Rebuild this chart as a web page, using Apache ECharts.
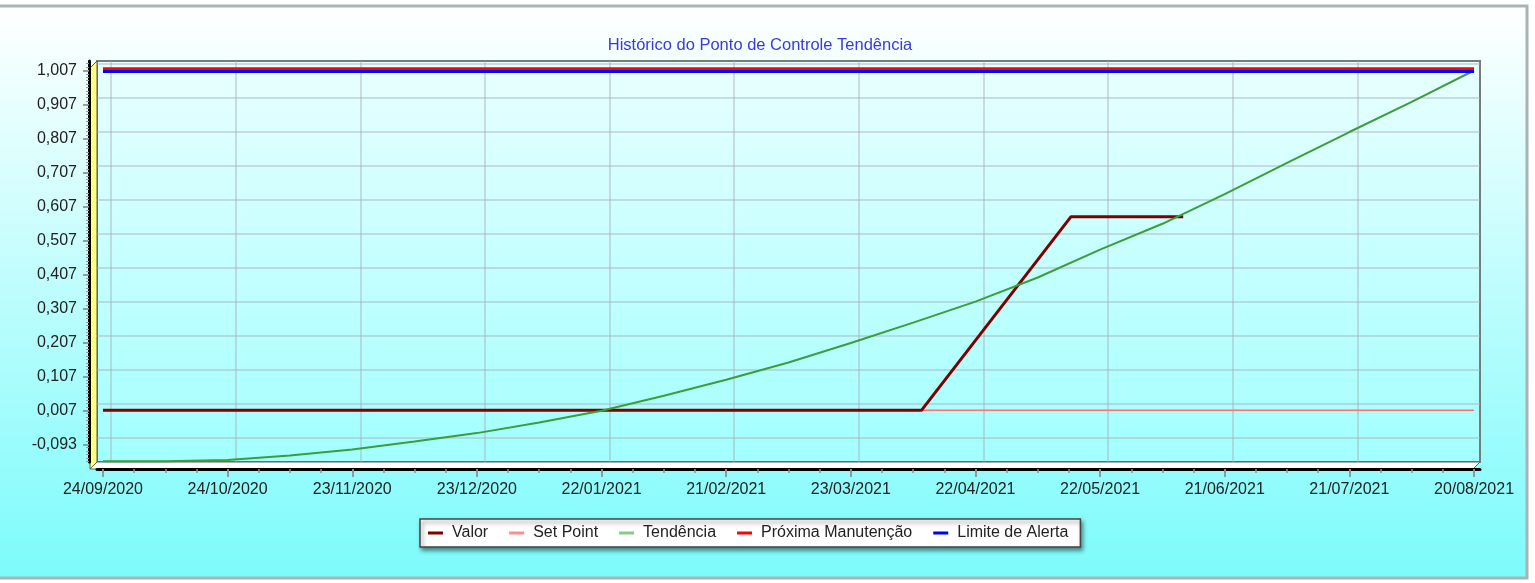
<!DOCTYPE html>
<html>
<head>
<meta charset="utf-8">
<title>Histórico do Ponto de Controle Tendência</title>
<script src="https://cdn.jsdelivr.net/npm/echarts@6/dist/echarts.min.js"></script>
<style>
  html, body { margin: 0; padding: 0; background: #fff; }
  #main { width: 1535px; height: 583px; }
</style>
</head>
<body>
<div id="main"></div>
<script>
// rótulos dos eixos
var xTicks = ['2020-09-24', '2020-10-24', '2020-11-23', '2020-12-23', '2021-01-22', '2021-02-21',
  '2021-03-23', '2021-04-22', '2021-05-22', '2021-06-21', '2021-07-21', '2021-08-20'];
var yTicks = [-0.093, 0.007, 0.107, 0.207, 0.307, 0.407, 0.507, 0.607, 0.707, 0.807, 0.907, 1.007];

// Valor
var valorDates = ['2020-09-24', '2021-04-09', '2021-05-15', '2021-06-11'];
var valorValues = [0.007, 0.007, 0.577, 0.577];

// Set Point
var setPointDates = ['2020-09-24', '2021-08-20'];
var setPointValues = [0.007, 0.007];

// Tendência
var tendDates = ['2020-09-24', '2020-10-09', '2020-10-24', '2020-11-08', '2020-11-23', '2020-12-08',
  '2020-12-23', '2021-01-07', '2021-01-22', '2021-02-06', '2021-02-21', '2021-03-08', '2021-03-23',
  '2021-04-07', '2021-04-22', '2021-05-07', '2021-05-22', '2021-06-06', '2021-06-21', '2021-07-06',
  '2021-07-21', '2021-08-05', '2021-08-20'];
var tendValues = [-0.143, -0.143, -0.139, -0.126, -0.108, -0.085,
  -0.060, -0.029, 0.006, 0.050, 0.097, 0.148, 0.205,
  0.265, 0.327, 0.398, 0.480, 0.556, 0.643, 0.735,
  0.826, 0.915, 1.007];

// Próxima Manutenção / Limite de Alerta
var manutDates = ['2020-09-24', '2021-08-20'];
var manutValues = [1.012, 1.012];
var alertaDates = ['2020-09-24', '2021-08-20'];
var alertaValues = [1.004, 1.004];

var DAY = 86400000;
function ts(s) { return Date.parse(s + 'T00:00:00Z'); }
function pairs(d, v) { return d.map(function (s, i) { return [ts(s), v[i]]; }); }
function pad(n) { return n < 10 ? '0' + n : '' + n; }
function fmtDate(t) {
  var d = new Date(t);
  return pad(d.getUTCDate()) + '/' + pad(d.getUTCMonth() + 1) + '/' + d.getUTCFullYear();
}
function fmtNum(v) { return v.toFixed(3).replace('.', ','); }

var xMajor = xTicks.map(ts);
var xMinor = [];
for (var i = 0; i <= 44; i++) xMinor.push(xMajor[0] + i * 7.5 * DAY);
var yMinor = [];
for (var k = -15; k <= 102; k++) yMinor.push(+(0.007 + k * 0.01).toFixed(3));

var xMin = xMajor[0] - 1.44 * DAY;
var xMax = xMajor[xMajor.length - 1] + 1.44 * DAY;
var yMin = -0.145, yMax = 1.035;
// grade desenhada na parede do fundo (deslocada como no 3D)
var xShift = 1.93 * DAY, yShift = 0.0206;

var font = 'Liberation Sans, Arial, sans-serif';
var gridColor = 'rgba(170,170,182,0.42)';

var chart = echarts.init(document.getElementById('main'));

var option = {
  animation: false,
  backgroundColor: '#ffffff',
  title: {
    text: 'Histórico do Ponto de Controle Tendência',
    left: 755,
    textAlign: 'center',
    top: 32,
    textStyle: { color: '#3a3adc', fontSize: 16.5, fontWeight: 'normal', fontFamily: font }
  },
  legend: {
    left: 420,
    top: 519,
    padding: [6, 12, 6, 8],
    backgroundColor: '#ffffff',
    borderColor: '#444',
    borderWidth: 1.5,
    shadowBlur: 4,
    shadowOffsetX: 2,
    shadowOffsetY: 3,
    shadowColor: 'rgba(0,0,0,0.45)',
    icon: 'rect',
    itemWidth: 15,
    itemHeight: 3,
    itemGap: 21,
    textStyle: { fontSize: 16, color: '#222', fontFamily: font, padding: [0, 0, 0, 4] },
    data: ['Valor', 'Set Point', 'Tendência', 'Próxima Manutenção', 'Limite de Alerta']
  },
  grid: { left: 97, right: 55, top: 61, bottom: 121 },
  xAxis: [{
    type: 'value',
    position: 'bottom',
    min: xMin,
    max: xMax,
    offset: 7,
    axisLine: { onZero: false, lineStyle: { color: '#000', width: 3 } },
    axisTick: { customValues: xMajor, length: 8, lineStyle: { color: '#808080', width: 1.5 } },
    axisLabel: {
      customValues: xMajor,
      formatter: function (v) { return fmtDate(v); },
      margin: 13,
      fontSize: 16,
      color: '#222',
      fontFamily: font
    },
    splitLine: { show: false }
  }, {
    type: 'value',
    position: 'bottom',
    min: xMin,
    max: xMax,
    offset: 7,
    axisLine: { show: false, onZero: false },
    axisTick: { customValues: xMinor, length: 4, lineStyle: { color: '#909090', width: 1.5 } },
    axisLabel: { show: false },
    splitLine: { show: false }
  }, {
    type: 'value',
    position: 'bottom',
    min: xMin - xShift,
    max: xMax - xShift,
    axisLine: { show: false, onZero: false },
    axisTick: { show: false, customValues: xMajor },
    axisLabel: { show: false },
    splitLine: { show: true, lineStyle: { color: gridColor, width: 2 } }
  }],
  yAxis: [{
    type: 'value',
    position: 'left',
    min: yMin,
    max: yMax,
    offset: 8,
    axisLine: { show: true, onZero: false, lineStyle: { color: '#000', width: 3 } },
    axisTick: { show: true, customValues: yTicks, length: 6, lineStyle: { color: '#808080', width: 1.5 } },
    axisLabel: {
      customValues: yTicks,
      formatter: function (v) { return fmtNum(v); },
      margin: 12,
      fontSize: 16,
      color: '#222',
      fontFamily: font
    },
    splitLine: { show: false }
  }, {
    type: 'value',
    position: 'left',
    min: yMin,
    max: yMax,
    offset: 8,
    axisLine: { show: false, onZero: false },
    axisTick: { show: true, customValues: yMinor, length: 3, lineStyle: { color: '#999', width: 1 } },
    axisLabel: { show: false },
    splitLine: { show: false }
  }, {
    type: 'value',
    position: 'left',
    min: yMin - yShift,
    max: yMax - yShift,
    axisLine: { show: false, onZero: false },
    axisTick: { show: false, customValues: yTicks },
    axisLabel: { show: false },
    splitLine: { show: true, lineStyle: { color: gridColor, width: 2 } }
  }],
  graphic: [
    // painel externo
    {
      type: 'rect', z: -20, silent: true,
      shape: { x: -4, y: 6, width: 1531, height: 572 },
      style: {
        fill: new echarts.graphic.LinearGradient(0, 0, 0, 1, [
          { offset: 0, color: '#ffffff' }, { offset: 1, color: '#7cfbfb' }
        ]),
        stroke: '#a9b3b3', lineWidth: 3
      }
    },
    // parede do fundo
    {
      type: 'rect', z: -15, silent: true,
      shape: { x: 97, y: 61, width: 1383, height: 401 },
      style: {
        fill: new echarts.graphic.LinearGradient(0, 0, 0, 1, [
          { offset: 0, color: '#e9ffff' }, { offset: 1, color: '#a2ffff' }
        ]),
        stroke: '#7a7a7a', lineWidth: 2
      }
    },
    // parede esquerda
    {
      type: 'polygon', z: -14, silent: true,
      shape: { points: [[90, 68], [97, 61], [97, 462], [90, 469]] },
      style: { fill: '#ffff80', stroke: '#555', lineWidth: 1 }
    },
    // piso
    {
      type: 'polygon', z: -14, silent: true,
      shape: { points: [[97, 462], [1480, 462], [1473, 469], [90, 469]] },
      style: { fill: '#ffffff', stroke: '#606060', lineWidth: 1 }
    }
  ],
  series: [{
    name: 'Valor',
    type: 'line',
    z: 3,
    symbol: 'none',
    data: pairs(valorDates, valorValues),
    itemStyle: { color: '#800000' },
    lineStyle: { color: '#800000', width: 3 }
  }, {
    name: 'Set Point',
    type: 'line',
    z: 2,
    symbol: 'none',
    data: pairs(setPointDates, setPointValues),
    itemStyle: { color: '#ff8c8c' },
    lineStyle: { color: '#ff7070', width: 1.5 }
  }, {
    name: 'Tendência',
    type: 'line',
    z: 3,
    symbol: 'none',
    data: pairs(tendDates, tendValues),
    itemStyle: { color: '#88c888' },
    lineStyle: { color: '#3a9e3a', width: 2 }
  }, {
    name: 'Próxima Manutenção',
    type: 'line',
    z: 3,
    symbol: 'none',
    data: pairs(manutDates, manutValues),
    itemStyle: { color: '#ff0000' },
    lineStyle: { color: '#ff0000', width: 3 }
  }, {
    name: 'Limite de Alerta',
    type: 'line',
    z: 3,
    symbol: 'none',
    data: pairs(alertaDates, alertaValues),
    itemStyle: { color: '#0000ff' },
    lineStyle: { color: '#0000ff', width: 3 }
  }]
};

chart.setOption(option);
</script>
</body>
</html>
